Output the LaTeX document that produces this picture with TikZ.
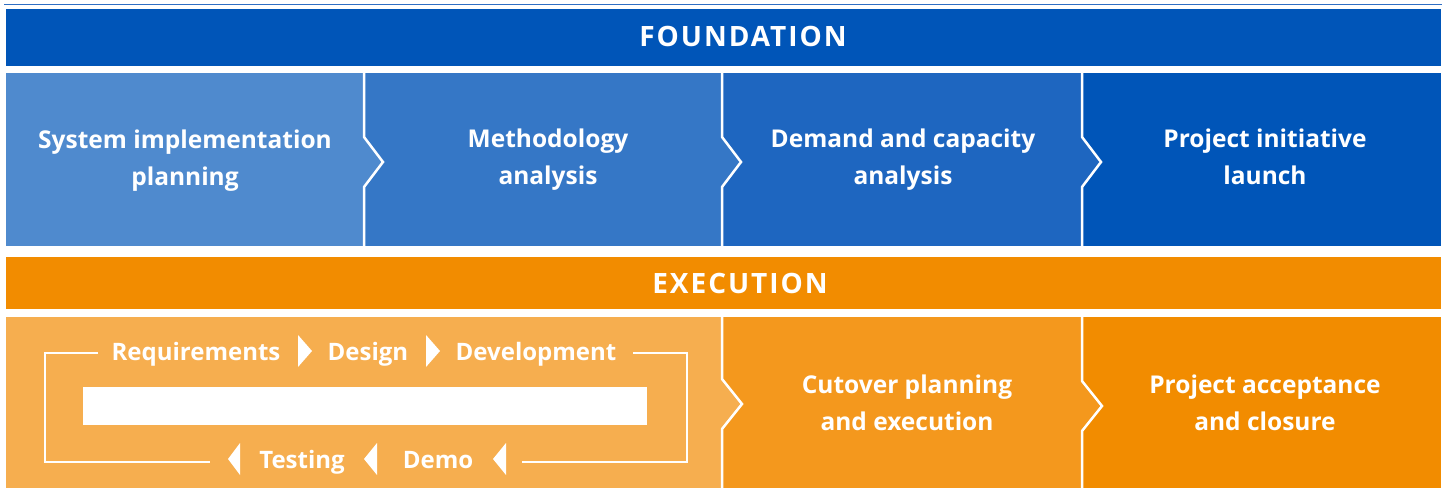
\documentclass[tikz,border=0pt]{standalone}
\usepackage{fontspec}
\setmainfont{Open Sans}
\definecolor{topline}{HTML}{2E6EC4}
\definecolor{bdark}{HTML}{0055B8}
\definecolor{bone}{HTML}{4F8ACE}
\definecolor{btwo}{HTML}{3577C6}
\definecolor{bthree}{HTML}{1E66C0}
\definecolor{obar}{HTML}{F28C00}
\definecolor{oone}{HTML}{F6AE4F}
\definecolor{otwo}{HTML}{F4981D}
\definecolor{othree}{HTML}{F28C00}
\tikzset{
  lbl/.style={text=white,font=\bfseries\fontsize{24.5}{37.5}\selectfont,align=center,inner sep=0pt},
  barlbl/.style={text=white,font=\bfseries\fontsize{28}{30}\selectfont\addfontfeature{LetterSpace=7},inner sep=0pt,anchor=base},
  looplbl/.style={text=white,font=\bfseries\fontsize{24}{28}\selectfont,inner sep=0pt,anchor=base},
  sep/.style={draw=white,line width=2.5pt},
  loopline/.style={draw=white,line width=2pt},
  tri/.style={fill=white,draw=none}
}
\begin{document}
\begin{tikzpicture}[x=1pt,y=-1pt]
\useasboundingbox (0,0) rectangle (1447,489);
\fill[white] (0,0) rectangle (1447,489);
% top line
\draw[topline,line width=1.2pt] (4,4.5) -- (1442,4.5);
% foundation bar
\fill[bdark] (6,9) rectangle (1441,66);
\node[barlbl] (found) at (743,46.5) {FOUNDATION};
% blue row
\fill[bone] (6,73) rectangle (365,246);
\fill[btwo] (365,73) rectangle (723,246);
\fill[bthree] (723,73) rectangle (1083,246);
\fill[bdark] (1083,73) rectangle (1441,246);
\fill[bone] (364,137) -- (383,162) -- (364,187) -- cycle;
\fill[btwo] (722,137) -- (741,162) -- (722,187) -- cycle;
\fill[bthree] (1082,137) -- (1101,162) -- (1082,187) -- cycle;
\draw[sep] (364,73) -- (364,137) -- (383,162) -- (364,187) -- (364,246);
\draw[sep] (722,73) -- (722,137) -- (741,162) -- (722,187) -- (722,246);
\draw[sep] (1082,73) -- (1082,137) -- (1101,162) -- (1082,187) -- (1082,246);
\node[lbl] (s1) at (185,160.5) {System implementation\\planning};
\node[lbl] (s2) at (548,159.5) {Methodology\\analysis};
\node[lbl] (s3) at (903,159.5) {Demand and capacity\\analysis};
\node[lbl] (s4) at (1265,157) {Project initiative\\launch};
% execution bar
\fill[obar] (6,257) rectangle (1441,309);
\node[barlbl] (exec) at (740,293) {EXECUTION};
% orange row
\fill[oone] (6,317) rectangle (723,488);
\fill[otwo] (723,317) rectangle (1083,488);
\fill[othree] (1083,317) rectangle (1441,488);
\fill[oone] (722,379) -- (742,404) -- (722,429) -- cycle;
\fill[otwo] (1082,381) -- (1102,406) -- (1082,431) -- cycle;
\draw[sep] (722,317) -- (722,379) -- (742,404) -- (722,429) -- (722,488);
\draw[sep] (1082,317) -- (1082,381) -- (1102,406) -- (1082,431) -- (1082,488);
\node[lbl] (s5) at (907,403) {Cutover planning\\and execution};
\node[lbl] (s6) at (1265,403) {Project acceptance\\and closure};
% loop
\fill[white] (83,387) rectangle (647,425);
\node[looplbl] (req) at (196,360) {Requirements};
\node[looplbl] (des) at (368,360) {Design};
\node[looplbl] (dev) at (536,360) {Development};
\node[looplbl] (tst) at (302,468) {Testing};
\node[looplbl] (dem) at (438,468) {Demo};
\coordinate (tl) at (45,353);
\coordinate (tr) at (687,353);
\coordinate (br) at (687,462);
\coordinate (bl) at (45,462);
\draw[loopline] (98,353) -- (tl) -- (bl) -- (210,462);
\draw[loopline] (633,353) -- (tr) -- (br) -- (522,462);
\fill[tri] (298,335) -- (312,351) -- (298,367) -- cycle;
\fill[tri] (426,335) -- (440,351) -- (426,367) -- cycle;
\fill[tri] (240,443) -- (228,459) -- (240,475) -- cycle;
\fill[tri] (377,443) -- (364,459) -- (377,475) -- cycle;
\fill[tri] (506,443) -- (493,459) -- (506,475) -- cycle;
\end{tikzpicture}
\end{document}
